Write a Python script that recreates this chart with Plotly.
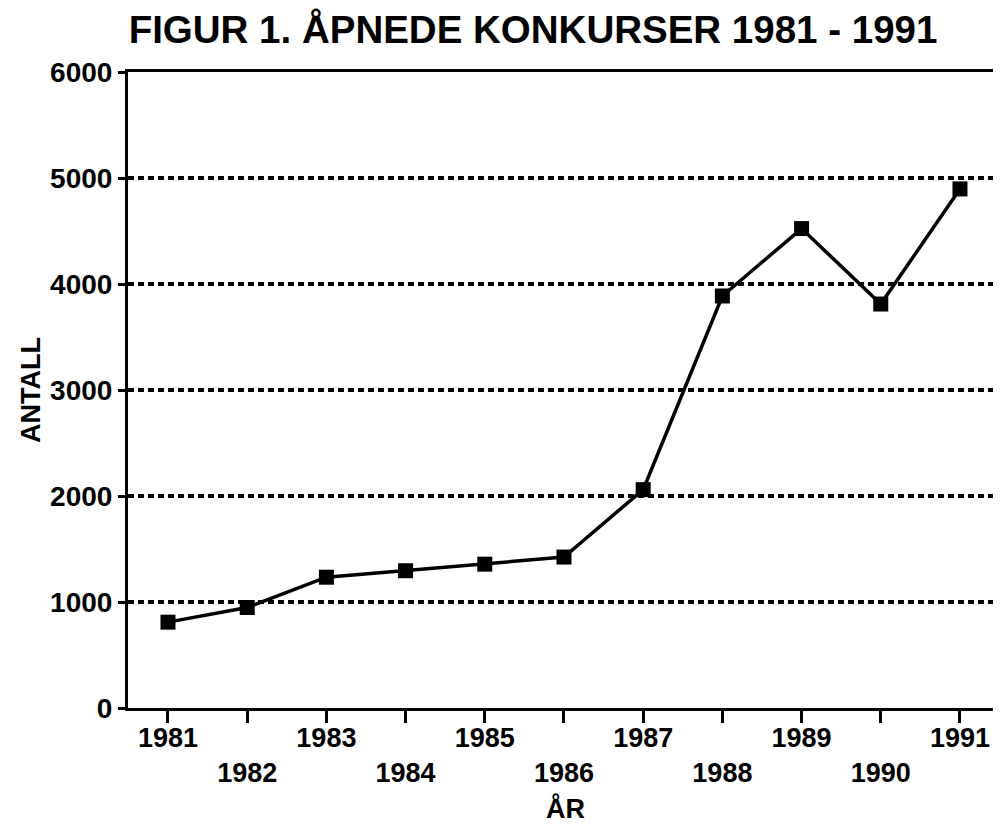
import plotly.graph_objects as go

years = [1981, 1982, 1983, 1984, 1985, 1986, 1987, 1988, 1989, 1990, 1991]
antall = [810, 948, 1234, 1295, 1357, 1424, 2060, 3887, 4523, 3811, 4897]
y_ticks = [0, 1000, 2000, 3000, 4000, 5000, 6000]
odd_years = [y for y in years if y % 2 == 1]
even_years = [y for y in years if y % 2 == 0]

FONT = "Liberation Sans, Arial, sans-serif"
# page body has an 8px default margin, so the figure is sized/positioned to compensate
W, H = 993, 819
L, R, T, B = 120, 8, 64, 119
PW, PH = W - L - R, H - T - B
XR = [1980.495, 1991.417]

fig = go.Figure()
fig.add_trace(go.Scatter(
    x=years, y=antall, mode="lines+markers",
    line=dict(color="black", width=3.5),
    marker=dict(symbol="square", size=15, color="black"),
    showlegend=False, xaxis="x", yaxis="y",
))
# invisible helper trace so the second (even-year) label axis is drawn
fig.add_trace(go.Scatter(
    x=even_years, y=[None] * len(even_years), mode="markers",
    showlegend=False, hoverinfo="skip", xaxis="x2", yaxis="y",
))

fig.update_layout(
    width=W, height=H,
    margin=dict(l=L, r=R, t=T, b=B),
    paper_bgcolor="white", plot_bgcolor="white",
    font=dict(family=FONT, size=27, color="black", weight="bold"),
    title=dict(text="FIGUR 1. ÅPNEDE KONKURSER 1981 - 1991",
               x=525 / W, xanchor="center", xref="container",
               y=1 - 22 / H, yanchor="middle", yref="container",
               font=dict(size=38.5, family=FONT, color="black", weight="bold")),
    xaxis=dict(
        range=XR, tickmode="array", tickvals=years,
        ticktext=[str(y) if y % 2 == 1 else "" for y in years],
        showgrid=False, zeroline=False, automargin=False,
        showline=True, linecolor="black", linewidth=3, mirror=True,
        ticks="outside", ticklen=12, tickwidth=2.5, tickcolor="black",
        tickfont=dict(size=27, weight="bold"), ticklabelstandoff=-8,
    ),
    xaxis2=dict(
        range=XR, overlaying="x", anchor="y", side="bottom",
        tickmode="array", tickvals=even_years,
        ticktext=[str(y) for y in even_years],
        showgrid=False, zeroline=False, showline=False, automargin=False,
        ticks="", tickfont=dict(size=27, weight="bold"), ticklabelstandoff=46,
    ),
    yaxis=dict(
        range=[0, 6000], tickmode="array", tickvals=y_ticks,
        showgrid=True, gridcolor="black", gridwidth=3.5, griddash="6px,4px",
        zeroline=False, automargin=False,
        showline=True, linecolor="black", linewidth=3, mirror=True,
        ticks="outside", ticklen=7, tickwidth=2.5, tickcolor="black",
        tickfont=dict(size=28, weight="bold"), ticklabelstandoff=0,
    ),
    annotations=[
        dict(text="ANTALL", x=(23 - L) / PW, xref="paper", y=0.5, yref="paper",
             showarrow=False, textangle=-90, font=dict(size=27, weight="bold"),
             xanchor="center", yanchor="middle"),
        dict(text="ÅR", x=(557 - L) / PW, xref="paper",
             y=-(800 - (H - B)) / PH, yref="paper",
             showarrow=False, font=dict(size=27, weight="bold"),
             xanchor="center", yanchor="middle"),
    ],
)

fig.write_html("out.html")
